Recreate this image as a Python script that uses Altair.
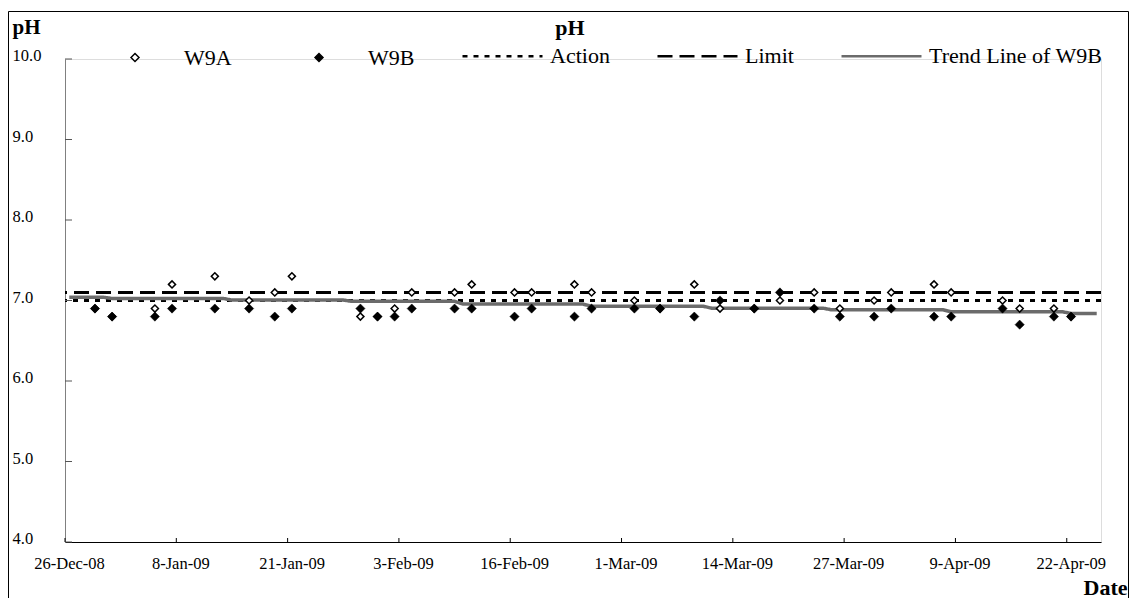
import altair as alt
import pandas as pd

FONT = "Liberation Serif"

# ---------------- data ----------------
sample_dates = [
    "2008-12-29", "2008-12-31", "2009-01-05", "2009-01-07", "2009-01-12", "2009-01-16",
    "2009-01-19", "2009-01-21", "2009-01-29", "2009-01-31", "2009-02-02", "2009-02-04",
    "2009-02-09", "2009-02-11", "2009-02-16", "2009-02-18", "2009-02-23", "2009-02-25",
    "2009-03-02", "2009-03-05", "2009-03-09", "2009-03-12", "2009-03-16", "2009-03-19",
    "2009-03-23", "2009-03-26", "2009-03-30", "2009-04-01", "2009-04-06", "2009-04-08",
    "2009-04-14", "2009-04-16", "2009-04-20", "2009-04-22",
]
w9a = [6.9, 6.8, 6.9, 7.2, 7.3, 7.0, 7.1, 7.3, 6.8, 6.8, 6.9, 7.1,
       7.1, 7.2, 7.1, 7.1, 7.2, 7.1, 7.0, 6.9, 7.2, 6.9, 6.9, 7.0,
       7.1, 6.9, 7.0, 7.1, 7.2, 7.1, 7.0, 6.9, 6.9, 6.8]
w9b = [6.9, 6.8, 6.8, 6.9, 6.9, 6.9, 6.8, 6.9, 6.9, 6.8, 6.8, 6.9,
       6.9, 6.9, 6.8, 6.9, 6.8, 6.9, 6.9, 6.9, 6.8, 7.0, 6.9, 7.1,
       6.9, 6.8, 6.8, 6.9, 6.8, 6.8, 6.9, 6.7, 6.8, 6.8]

trend_dates = [
    "2008-12-26", "2008-12-30", "2008-12-31", "2009-01-13", "2009-01-14", "2009-01-27",
    "2009-01-28", "2009-02-09", "2009-02-10", "2009-02-24", "2009-02-25", "2009-03-10",
    "2009-03-11", "2009-03-24", "2009-03-25", "2009-04-07", "2009-04-08", "2009-04-21",
    "2009-04-22", "2009-04-25",
]
trend_values = [7.04, 7.04, 7.025, 7.025, 7.005, 7.005, 6.99, 6.99, 6.955, 6.955,
                6.93, 6.93, 6.905, 6.905, 6.885, 6.885, 6.86, 6.86, 6.84, 6.84]

line_names = ["Action", "Limit", "Trend Line of W9B"]
action_level = 7.0
limit_level = 7.1

x_tick_dates = ["2008-12-26", "2009-01-08", "2009-01-21", "2009-02-03", "2009-02-16",
                "2009-03-01", "2009-03-14", "2009-03-27", "2009-04-09", "2009-04-22"]
y_tick_values = [4, 5, 6, 7, 8, 9, 10]

# ---------------- tables ----------------
n = len(sample_dates)
pts = pd.DataFrame({
    "date": sample_dates * 2,
    "sample": ["W9A"] * n + ["W9B"] * n,
    "pH": w9a + w9b,
})
pts["ts"] = pts["date"] + "T12:00:00Z"

trend = pd.DataFrame({"date": trend_dates, "pH": trend_values})
trend["ts"] = trend["date"] + "T12:00:00Z"
trend["line"] = line_names[2]

levels = pd.DataFrame({"line": line_names[:2], "pH": [action_level, limit_level]})
xt = pd.DataFrame({"ts": [d + "T00:00:00Z" for d in x_tick_dates]})
yt = pd.DataFrame({"pH": y_tick_values})
frame_df = pd.DataFrame({"k": [0]})

# ---------------- layout ----------------
W, H = 1036, 483
PAD = {"left": 57, "top": 51, "right": 28, "bottom": 56}


def dt(s):
    y, m, d = (int(v) for v in s.split("-"))
    return alt.DateTime(year=y, month=m, date=d, utc=True)


xscale = alt.Scale(type="utc", domain=[dt("2008-12-26"), dt("2009-04-26")], nice=False)
yscale = alt.Scale(domain=[4, 10], nice=False, zero=False)

xaxis = alt.Axis(
    values=[dt(d) for d in x_tick_dates], format="%-d-%b-%y", ticks=False, tickSize=0,
    grid=False, domainColor="black", domainWidth=1, labelFont=FONT, labelFontSize=16.5,
    labelColor="black", labelPadding=13, labelOffset=4, labelFlush=False, labelOverlap=False,
    title="Date", titleFont=FONT, titleFontSize=22, titleFontWeight="bold", titleColor="black",
    titleX=1018, titleY=52, titleAlign="left", titleBaseline="alphabetic", titleAnchor="start",
)
yaxis = alt.Axis(
    values=y_tick_values, format=".1f", ticks=False, tickSize=0, grid=False,
    domainColor="#808080", domainWidth=1, labelFont=FONT, labelFontSize=16.5, labelColor="black",
    labelAlign="left", labelPadding=53, labelBaseline="middle", labelOffset=-3.5,
    labelFlush=False, labelOverlap=False,
    title="pH", titleFont=FONT, titleFontSize=21, titleFontWeight="bold", titleColor="black",
    titleAngle=0, titleX=-53, titleY=-26, titleAlign="left", titleBaseline="alphabetic",
)

X = alt.X("ts:T", scale=xscale, axis=xaxis)
Y = alt.Y("pH:Q", scale=yscale, axis=yaxis)

line_leg = alt.Legend(
    title=None, orient="none", legendX=396, legendY=-44.5, direction="horizontal", columns=3,
    symbolType="stroke", symbolSize=80 * 80, symbolStrokeWidth=2.5, labelOffset=6,
    columnPadding=42, labelFont=FONT, labelFontSize=22, labelColor="black",
    labelBaseline="middle", labelLimit=400, padding=0,
)
pt_leg = alt.Legend(
    title=None, orient="none", legendX=59, legendY=-12.5, direction="horizontal", columns=2,
    symbolType="diamond", symbolSize=64, symbolStrokeColor="black", symbolStrokeWidth=1.5,
    labelOffset=38, columnPadding=76, labelFont=FONT, labelFontSize=22, labelColor="black",
    labelBaseline="middle", labelLimit=400, padding=0,
)

line_color = alt.Color("line:N", scale=alt.Scale(domain=line_names, range=["black", "black", "#6b6b6b"]),
                       legend=line_leg)
line_dash = alt.StrokeDash("line:N", scale=alt.Scale(domain=line_names, range=[[5, 6], [15, 7], [1, 0]]),
                           legend=line_leg)

frame = alt.Chart(frame_df).mark_rect(filled=False, stroke="black", strokeWidth=1).encode(
    x=alt.value(-56.5), x2=alt.value(W + PAD["right"] - 0.5),
    y=alt.value(-47.5), y2=alt.value(H + PAD["bottom"] + 20),
)

ytick_layer = alt.Chart(yt).mark_rule(color="#555555", strokeWidth=1).encode(
    y=Y, x=alt.value(0), x2=alt.value(7))
xtick_layer = alt.Chart(xt).mark_rule(color="black", strokeWidth=1).encode(
    x=X, y=alt.value(H), y2=alt.value(H - 4))

level_layer = alt.Chart(levels).mark_rule(strokeWidth=3).encode(
    y=Y, color=line_color, strokeDash=line_dash)
trend_layer = alt.Chart(trend).mark_line(strokeWidth=3.5, interpolate="linear").encode(
    x=X, y=Y, color=line_color, strokeDash=line_dash)

pt_fill = alt.Fill("sample:N", scale=alt.Scale(domain=["W9A", "W9B"], range=["white", "black"]),
                   legend=pt_leg)
a_layer = alt.Chart(pts).transform_filter(alt.datum.sample == "W9A").mark_point(
    shape="diamond", filled=True, size=50, stroke="black", strokeWidth=1.5, opacity=1
).encode(x=X, y=Y, fill=pt_fill)
b_layer = alt.Chart(pts).transform_filter(alt.datum.sample == "W9B").mark_point(
    shape="diamond", filled=True, size=85, stroke="black", strokeWidth=0.5, opacity=1
).encode(x=X, y=Y, fill=pt_fill)

chart = alt.layer(
    frame, level_layer, trend_layer, ytick_layer, xtick_layer, a_layer, b_layer
).properties(
    width=W, height=H,
    title=alt.TitleParams("pH", anchor="middle", font=FONT, fontSize=22, fontWeight="bold",
                          color="black", dx=-13, dy=33, offset=4),
    autosize=alt.AutoSizeParams(type="none"),
    padding=PAD,
).configure_view(stroke=None).configure(background="white")

chart.save("out.html", embed_options={"renderer": "svg", "actions": False})
